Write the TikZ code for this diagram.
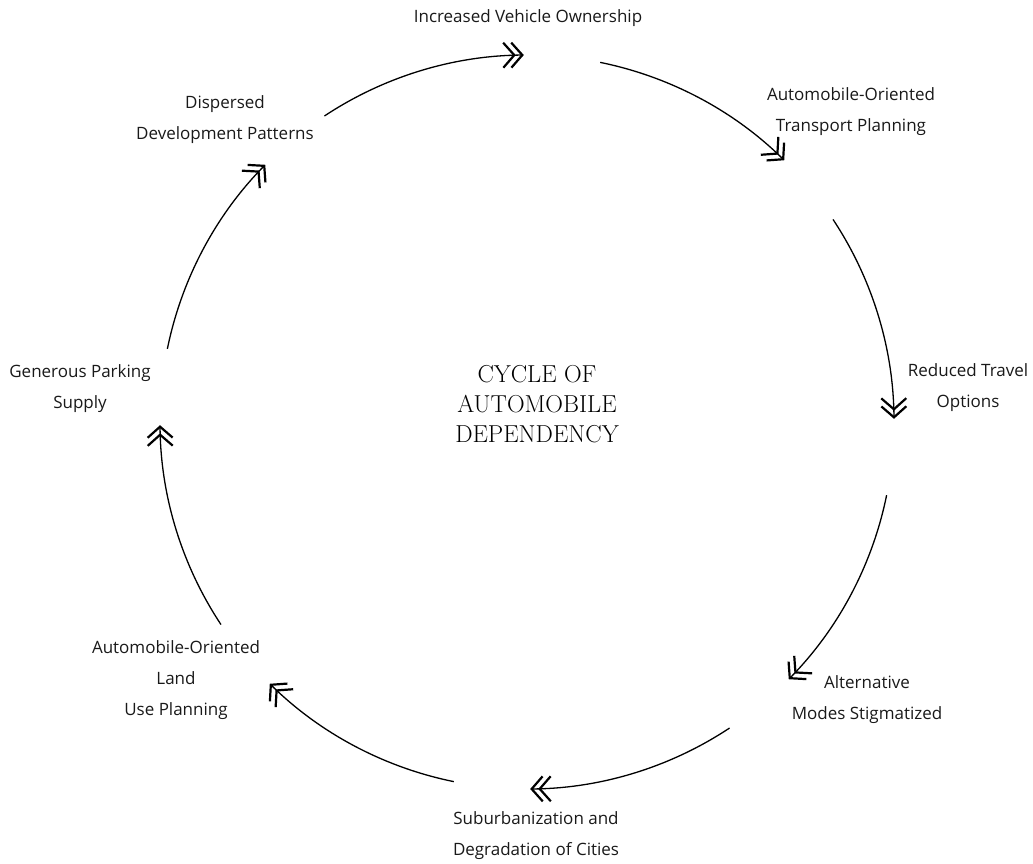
\documentclass[tikz,border=0pt]{standalone}
\usepackage{fontspec}
\setmainfont{Open Sans}
\newfontfamily\titlefont{Latin Modern Roman}
\usetikzlibrary{arrows.meta,calc}
\begin{document}
\begin{tikzpicture}[x=1pt,y=-1pt,
  label/.style={align=center,font=\fontsize{17}{31}\selectfont,inner sep=0pt,text=black!90},
  cyc/.style={line width=1.3pt,
    -{Straight Barb[length=11pt,width=25pt,line width=2.2pt,sep=-5.5pt]
      Straight Barb[length=11pt,width=25pt,line width=2.2pt]}}]
\useasboundingbox (0,0) rectangle (1033,863);
\coordinate (C) at (527,422);
\def\R{367pt}

% stages of the cycle
\node[label] (own)  at (528,18)  {Increased Vehicle Ownership};
\node[label] (tp)   at (851,112) {Automobile-Oriented\\Transport Planning};
\node[label] (opt)  at (968,388) {Reduced Travel\\Options};
\node[label] (alt)  at (867,700) {Alternative\\Modes Stigmatized};
\node[label] (sub)  at (536,836) {Suburbanization and\\Degradation of Cities};
\node[label] (lup)  at (176,680) {Automobile-Oriented\\Land\\Use Planning};
\node[label] (park) at (80,389)  {Generous Parking\\Supply};
\node[label] (disp) at (225,120) {Dispersed\\Development Patterns};

\node[align=center,font=\titlefont\fontsize{24.5}{30}\selectfont,inner sep=0pt]
  (title) at (537,404) {CYCLE OF\\AUTOMOBILE\\DEPENDENCY};

% arcs of the cycle, clockwise
\foreach \a/\b in {90/45,45/0,0/-45,-45/-90,-90/-135,-135/-180,-180/-225,-225/-270}{
  \draw[cyc] ($(C)+(\a-11.5:\R)$) arc[start angle=\a-11.5,end angle=\b+0.5,radius=\R];
}
\end{tikzpicture}
\end{document}
